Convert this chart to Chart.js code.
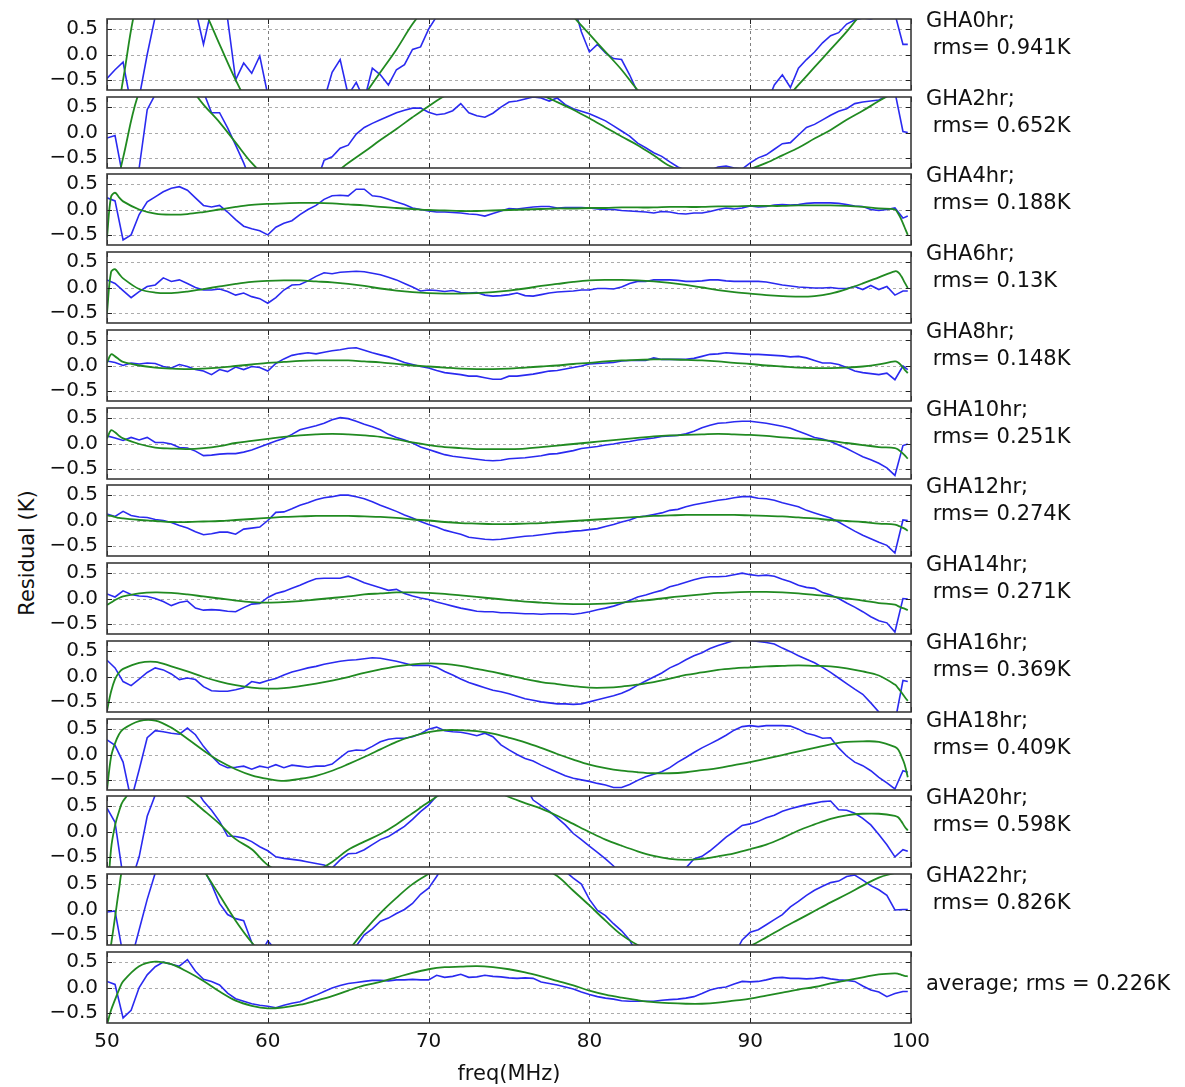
<!DOCTYPE html>
<html>
<head>
<meta charset="utf-8">
<title>Residuals by GHA</title>
<script src="https://cdn.jsdelivr.net/npm/chart.js@4.4.1/dist/chart.umd.min.js"></script>
<style>
    html, body { margin: 0; padding: 0; background: #fff; }
    #figure {
        position: relative;
        width: 1185px;
        height: 1087px;
        overflow: hidden;
        font-family: "DejaVu Sans", sans-serif;
        color: #111;
    }
    #figure canvas { position: absolute; left: 0; }
    .side-label {
        position: absolute;
        left: 926px;
        font-size: 21px;
        line-height: 27px;
        white-space: pre;
    }
    #ylabel {
        position: absolute;
        left: 27px;
        top: 553px;
        font-size: 21px;
        white-space: nowrap;
        transform: translate(-50%, -50%) rotate(-90deg);
    }
</style>
</head>
<body>
<div id="figure">
    <div id="ylabel">Residual (K)</div>
</div>

<script>
// Frequency grid of the measured residuals (MHz)
const freqData = [
    50, 50.5, 51, 51.5, 52, 52.5, 53, 53.5, 54, 54.5,
    55, 55.5, 56, 56.5, 57, 57.5, 58, 58.5, 59, 59.5,
    60, 60.5, 61, 61.5, 62, 62.5, 63, 63.5, 64, 64.5,
    65, 65.5, 66, 66.5, 67, 67.5, 68, 68.5, 69, 69.5,
    70, 70.5, 71, 71.5, 72, 72.5, 73, 73.5, 74, 74.5,
    75, 75.5, 76, 76.5, 77, 77.5, 78, 78.5, 79, 79.5,
    80, 80.5, 81, 81.5, 82, 82.5, 83, 83.5, 84, 84.5,
    85, 85.5, 86, 86.5, 87, 87.5, 88, 88.5, 89, 89.5,
    90, 90.5, 91, 91.5, 92, 92.5, 93, 93.5, 94, 94.5,
    95, 95.5, 96, 96.5, 97, 97.5, 98, 98.5, 99, 99.5,
    99.8
];

// Frequency grid of the fitted curves (denser near the band edges)
const freqFit = [
    50, 50.25, 50.5, 50.75, 51,
    52, 53, 54, 55, 56, 57, 58, 59, 60, 61,
    62, 63, 64, 65, 66, 67, 68, 69, 70, 71,
    72, 73, 74, 75, 76, 77, 78, 79, 80, 81,
    82, 83, 84, 85, 86, 87, 88, 89, 90, 91,
    92, 93, 94, 95, 96, 97, 98,
    99, 99.2, 99.4, 99.6, 99.8
];

const xTickValues = [50, 60, 70, 80, 90, 100];
const yTickValues = [-0.5, 0, 0.5];

const ghaLabels = ['GHA0hr', 'GHA2hr', 'GHA4hr', 'GHA6hr', 'GHA8hr', 'GHA10hr',
    'GHA12hr', 'GHA14hr', 'GHA16hr', 'GHA18hr', 'GHA20hr', 'GHA22hr'];
const rmsValues = [0.941, 0.652, 0.188, 0.13, 0.148, 0.251, 0.274, 0.271, 0.369, 0.409, 0.598, 0.826];
const avgRms = 0.226;

// Residuals (K), one value per freqData entry
const residGHA0 = [
    -0.47, -0.3, -0.15, -1.0, -0.85, 0.0, 0.75, 1.0, 1.1, 1.1,
    1.0, 0.9, 0.2, 0.9, 0.85, 0.7, -0.5, -0.17, -0.37, -0.03,
    -0.8, -1.0, -1.1, -1.0, -1.1, -1.0, -1.0, -0.9, -0.35, -0.1,
    -0.8, -0.55, -0.9, -0.27, -0.4, -0.6, -0.3, -0.2, 0.1, 0.15,
    0.5, 0.75, 1.0, 1.0, 1.0, 1.0, 1.0, 1.0, 1.0, 1.0,
    1.0, 1.0, 1.0, 1.0, 1.0, 1.0, 1.0, 1.0, 1.0, 0.45,
    0.05, 0.2, 0.03, -0.08, -0.1, -0.4, -0.75, -1.0, -1.0, -1.0,
    -1.0, -1.0, -1.0, -1.0, -1.0, -1.0, -1.0, -1.0, -1.0, -1.0,
    -1.0, -1.0, -1.0, -0.6, -0.4, -0.65, -0.27, -0.1, 0.05, 0.23,
    0.37, 0.43, 0.6, 0.68, 0.72, 0.7, 0.75, 0.8, 0.8, 0.2,
    0.2
];
const residGHA2 = [
    -0.11, -0.06, -0.9, -1.0, -0.7, 0.45, 0.75, 1.0, 1.0, 1.0,
    1.0, 1.0, 0.8, 0.39, 0.39, 0.09, -0.25, -0.6, -1.0, -1.0,
    -1.0, -1.0, -1.0, -1.0, -1.0, -1.0, -1.0, -0.55, -0.48, -0.31,
    -0.25, -0.03, 0.1, 0.18, 0.25, 0.32, 0.39, 0.44, 0.48, 0.48,
    0.4, 0.35, 0.37, 0.43, 0.57, 0.39, 0.33, 0.3, 0.38, 0.5,
    0.6, 0.62, 0.66, 0.7, 0.68, 0.62, 0.68, 0.55, 0.47, 0.42,
    0.37, 0.3, 0.23, 0.13, 0.03, -0.07, -0.21, -0.3, -0.4, -0.47,
    -0.58, -0.68, -0.75, -0.8, -0.8, -0.75, -0.68, -0.66, -0.7, -0.72,
    -0.6, -0.5, -0.44, -0.33, -0.22, -0.2, -0.05, 0.1, 0.16, 0.25,
    0.34, 0.42, 0.47, 0.57, 0.6, 0.62, 0.64, 0.72, 0.8, 0.02,
    0.0
];
const residGHA4 = [
    0.23, 0.17, -0.6, -0.5, -0.1, 0.15, 0.25, 0.35, 0.42, 0.45,
    0.38, 0.23, 0.08, 0.05, 0.08, -0.05, -0.2, -0.33, -0.38, -0.42,
    -0.5, -0.35, -0.27, -0.22, -0.1, 0.0, 0.08, 0.2, 0.27, 0.28,
    0.27, 0.4, 0.4, 0.27, 0.25, 0.2, 0.15, 0.1, 0.03, 0.0,
    -0.03, -0.05, -0.05, -0.06, -0.07, -0.09, -0.1, -0.13, -0.08, -0.03,
    0.02, 0.01, 0.03, 0.05, 0.06, 0.06, 0.03, 0.04, 0.04, 0.04,
    0.03, 0.01, 0.0, 0.0, -0.02, -0.03, -0.04, -0.05, -0.07, -0.04,
    -0.05, -0.08, -0.09, -0.07, -0.07, -0.04, 0.0, 0.03, 0.01, 0.03,
    0.07, 0.05, 0.06, 0.09, 0.1, 0.09, 0.1, 0.12, 0.13, 0.13,
    0.13, 0.12, 0.1, 0.07, 0.06, 0.0, -0.02, 0.0, 0.03, -0.17,
    -0.13
];
const residGHA6 = [
    0.15, 0.08, -0.06, -0.2, -0.08, 0.02, 0.05, 0.19, 0.12, 0.15,
    0.08, 0.0, -0.05, -0.05, -0.03, -0.08, -0.15, -0.11, -0.18, -0.22,
    -0.31, -0.2, -0.05, 0.05, 0.06, 0.13, 0.22, 0.29, 0.27, 0.3,
    0.31, 0.32, 0.31, 0.28, 0.25, 0.2, 0.15, 0.08, 0.01, -0.07,
    -0.05, -0.06, -0.08, -0.06, -0.1, -0.11, -0.1, -0.15, -0.17, -0.16,
    -0.14, -0.11, -0.16, -0.17, -0.14, -0.11, -0.09, -0.08, -0.07, -0.05,
    -0.05, -0.02, -0.02, -0.03, 0.01, 0.08, 0.12, 0.12, 0.15, 0.15,
    0.15, 0.14, 0.12, 0.12, 0.13, 0.15, 0.15, 0.13, 0.12, 0.12,
    0.12, 0.12, 0.11, 0.08, 0.05, 0.03, 0.01, 0.0, -0.01, -0.01,
    0.0, -0.02, -0.02, 0.02, -0.04, 0.04, -0.04, 0.02, -0.15, -0.07,
    -0.07
];
const residGHA8 = [
    0.09, 0.06, 0.0, 0.05, 0.03, 0.05, 0.04, -0.02, -0.05, 0.02,
    -0.02, -0.08, -0.11, -0.18, -0.08, -0.12, -0.03, -0.08, -0.02, -0.04,
    -0.11, 0.04, 0.13, 0.2, 0.23, 0.25, 0.23, 0.26, 0.29, 0.31,
    0.34, 0.35, 0.3, 0.25, 0.21, 0.17, 0.12, 0.06, 0.02, -0.02,
    -0.05, -0.1, -0.14, -0.16, -0.18, -0.21, -0.21, -0.24, -0.27, -0.27,
    -0.21, -0.21, -0.19, -0.17, -0.14, -0.11, -0.1, -0.07, -0.04, -0.01,
    0.03, 0.04, 0.05, 0.06, 0.09, 0.1, 0.1, 0.1, 0.15, 0.12,
    0.12, 0.12, 0.12, 0.14, 0.18, 0.22, 0.23, 0.25, 0.24, 0.23,
    0.22, 0.22, 0.21, 0.2, 0.19, 0.17, 0.18, 0.15, 0.1, 0.05,
    0.05, 0.02, -0.04, -0.11, -0.14, -0.16, -0.18, -0.15, -0.28, -0.01,
    -0.08
];
const residGHA10 = [
    0.15, 0.11, 0.06, 0.12, 0.07, 0.12, 0.02, 0.02, -0.01, -0.08,
    -0.09, -0.15, -0.24, -0.23, -0.21, -0.2, -0.2, -0.17, -0.13, -0.07,
    -0.01, 0.05, 0.1, 0.18, 0.27, 0.31, 0.35, 0.4, 0.47, 0.51,
    0.49, 0.44, 0.38, 0.33, 0.27, 0.18, 0.12, 0.07, 0.01, -0.07,
    -0.12, -0.17, -0.22, -0.25, -0.27, -0.29, -0.31, -0.33, -0.34, -0.33,
    -0.3, -0.29, -0.28, -0.26, -0.24, -0.21, -0.2, -0.17, -0.14, -0.1,
    -0.08, -0.06, -0.03, -0.01, 0.02, 0.04, 0.07, 0.09, 0.11, 0.14,
    0.15, 0.16, 0.19, 0.24, 0.31, 0.36, 0.4, 0.41, 0.43, 0.44,
    0.44, 0.42, 0.4, 0.37, 0.34, 0.3, 0.24, 0.18, 0.12, 0.09,
    0.04, -0.03, -0.1, -0.18, -0.26, -0.32, -0.39, -0.48, -0.63, -0.04,
    -0.01
];
const residGHA12 = [
    0.13, 0.08, 0.18, 0.1, 0.07, 0.06, 0.02, 0.0, -0.04, -0.1,
    -0.15, -0.22, -0.28, -0.26, -0.23, -0.23, -0.27, -0.17, -0.15, -0.13,
    0.0, 0.16, 0.17, 0.23, 0.3, 0.35, 0.41, 0.45, 0.47, 0.5,
    0.5, 0.47, 0.43, 0.37, 0.3, 0.24, 0.18, 0.11, 0.05, -0.02,
    -0.08, -0.13, -0.19, -0.23, -0.27, -0.33, -0.35, -0.37, -0.38, -0.37,
    -0.35, -0.33, -0.31, -0.3, -0.28, -0.26, -0.24, -0.23, -0.21, -0.2,
    -0.18, -0.16, -0.12, -0.08, -0.03, 0.01, 0.07, 0.09, 0.12, 0.15,
    0.2, 0.22, 0.27, 0.31, 0.34, 0.37, 0.4, 0.42, 0.45, 0.47,
    0.47, 0.44, 0.43, 0.4, 0.35, 0.31, 0.27, 0.2, 0.15, 0.1,
    0.05, -0.03, -0.12, -0.21, -0.29, -0.36, -0.43, -0.49, -0.64, 0.01,
    0.0
];
const residGHA14 = [
    0.09, 0.03, 0.15, 0.08, 0.05, 0.04, 0.0, -0.06, -0.14, -0.08,
    -0.05, -0.19, -0.23, -0.22, -0.23, -0.25, -0.26, -0.18, -0.11, -0.1,
    0.02, 0.1, 0.14, 0.2, 0.26, 0.33, 0.39, 0.4, 0.4, 0.4,
    0.44, 0.38, 0.31, 0.26, 0.21, 0.16, 0.18, 0.1, 0.05, 0.01,
    -0.02, -0.07, -0.11, -0.15, -0.19, -0.22, -0.25, -0.26, -0.26, -0.28,
    -0.28, -0.29, -0.3, -0.3, -0.31, -0.3, -0.3, -0.3, -0.31, -0.29,
    -0.26, -0.22, -0.19, -0.15, -0.1, -0.04, 0.03, 0.07, 0.12, 0.16,
    0.23, 0.27, 0.32, 0.37, 0.41, 0.43, 0.43, 0.44, 0.47, 0.5,
    0.47, 0.45, 0.46, 0.44, 0.38, 0.33, 0.26, 0.22, 0.2, 0.12,
    0.07, 0.0, -0.09, -0.17, -0.26, -0.36, -0.44, -0.48, -0.66, 0.0,
    -0.01
];
const residGHA16 = [
    0.32, 0.17, -0.1, -0.18, -0.05, 0.08, 0.17, 0.13, 0.05, -0.06,
    -0.03, -0.06, -0.2, -0.28, -0.29, -0.29, -0.26, -0.22, -0.1, -0.13,
    -0.08, -0.04, 0.03, 0.09, 0.13, 0.17, 0.2, 0.24, 0.27, 0.3,
    0.32, 0.33, 0.35, 0.37, 0.36, 0.33, 0.3, 0.26, 0.22, 0.22,
    0.22, 0.18, 0.1, 0.03, -0.05, -0.12, -0.17, -0.22, -0.27, -0.3,
    -0.34, -0.39, -0.44, -0.47, -0.5, -0.52, -0.54, -0.54, -0.55, -0.54,
    -0.5, -0.46, -0.42, -0.38, -0.33, -0.26, -0.17, -0.09, -0.01, 0.07,
    0.17, 0.24, 0.33, 0.41, 0.47, 0.55, 0.61, 0.66, 0.71, 0.72,
    0.71, 0.69, 0.67, 0.64, 0.56, 0.49, 0.41, 0.34, 0.27, 0.18,
    0.08, -0.03, -0.14, -0.25, -0.35, -0.52, -0.7, -0.85, -0.9, -0.08,
    -0.1
];
const residGHA18 = [
    0.29, 0.18, -0.15, -0.9, -0.3, 0.33, 0.47, 0.45, 0.42, 0.4,
    0.52, 0.39, 0.16, -0.03, -0.19, -0.26, -0.25, -0.23, -0.29, -0.23,
    -0.26, -0.2, -0.26, -0.21, -0.23, -0.25, -0.23, -0.23, -0.19, -0.06,
    0.06, 0.09, 0.08, 0.16, 0.25, 0.3, 0.32, 0.32, 0.35, 0.41,
    0.5, 0.54, 0.47, 0.45, 0.44, 0.41, 0.37, 0.42, 0.35, 0.19,
    0.09, 0.0, -0.08, -0.13, -0.21, -0.28, -0.35, -0.42, -0.47, -0.5,
    -0.53, -0.57, -0.6, -0.65, -0.65, -0.59, -0.51, -0.44, -0.39, -0.34,
    -0.26, -0.15, -0.06, 0.04, 0.13, 0.21, 0.29, 0.38, 0.48, 0.55,
    0.57, 0.55, 0.57, 0.57, 0.57, 0.56, 0.5, 0.42, 0.38, 0.32,
    0.33, 0.13, -0.03, -0.15, -0.22, -0.32, -0.45, -0.56, -0.68, -0.32,
    -0.35
];
const residGHA20 = [
    0.46, 0.18, -0.9, -1.0, -0.5, 0.3, 0.72, 0.9, 1.0, 1.0,
    0.95, 0.85, 0.6, 0.42, 0.2, -0.09, -0.1, -0.13, -0.2, -0.3,
    -0.38, -0.5, -0.53, -0.55, -0.57, -0.6, -0.63, -0.66, -0.72, -0.56,
    -0.44, -0.43, -0.36, -0.26, -0.16, -0.1, 0.0, 0.1, 0.24, 0.39,
    0.52, 0.7, 0.9, 0.9, 0.9, 0.9, 0.9, 0.9, 0.9, 0.9,
    0.9, 0.9, 0.9, 0.62, 0.51, 0.4, 0.27, 0.13, -0.04, -0.16,
    -0.29, -0.41, -0.54, -0.68, -0.9, -0.9, -0.9, -0.9, -0.9, -0.9,
    -0.9, -0.9, -0.72, -0.54, -0.49, -0.38, -0.25, -0.11, 0.0, 0.12,
    0.15, 0.2, 0.27, 0.32, 0.4, 0.45, 0.49, 0.53, 0.56, 0.59,
    0.6, 0.43, 0.42, 0.36, 0.26, 0.13, -0.06, -0.26, -0.5, -0.36,
    -0.39
];
const residGHA22 = [
    -0.05, -0.03, -0.9, -1.0, -0.4, 0.2, 0.72, 0.9, 1.0, 1.0,
    1.0, 0.95, 0.8, 0.5, 0.12, -0.1, -0.18, -0.22, -0.65, -0.9,
    -0.62, -0.8, -0.9, -0.9, -0.9, -0.78, -0.9, -0.9, -0.9, -0.9,
    -0.9, -0.72, -0.5, -0.38, -0.23, -0.17, -0.08, 0.0, 0.12, 0.3,
    0.42, 0.65, 0.9, 0.9, 0.9, 0.9, 0.9, 0.9, 0.9, 0.9,
    0.9, 0.9, 0.9, 0.9, 0.9, 0.9, 0.9, 0.75, 0.62, 0.5,
    0.2, -0.02, -0.12, -0.28, -0.42, -0.6, -0.9, -0.9, -0.9, -0.9,
    -0.9, -0.9, -0.9, -0.9, -0.9, -0.9, -0.9, -0.9, -0.9, -0.6,
    -0.45, -0.4, -0.3, -0.2, -0.1, 0.05, 0.16, 0.28, 0.38, 0.46,
    0.53, 0.56, 0.65, 0.68, 0.58, 0.47, 0.39, 0.28, -0.01, 0.0,
    0.0
];
const residAvg = [
    0.12, 0.06, -0.6, -0.45, 0.0, 0.25, 0.41, 0.5, 0.46, 0.42,
    0.55, 0.32, 0.16, 0.12, 0.05, -0.11, -0.22, -0.27, -0.32, -0.35,
    -0.37, -0.4, -0.35, -0.31, -0.28, -0.21, -0.15, -0.08, -0.01, 0.04,
    0.08, 0.1, 0.12, 0.14, 0.14, 0.13, 0.15, 0.15, 0.16, 0.15,
    0.15, 0.24, 0.2, 0.22, 0.26, 0.2, 0.21, 0.24, 0.22, 0.21,
    0.19, 0.18, 0.19, 0.18, 0.11, 0.08, 0.05, 0.01, -0.03, -0.09,
    -0.14, -0.18, -0.21, -0.23, -0.26, -0.27, -0.27, -0.27, -0.27, -0.25,
    -0.24, -0.23, -0.21, -0.18, -0.12, -0.05, -0.01, 0.01, 0.07, 0.12,
    0.11, 0.12, 0.15, 0.19, 0.2, 0.18, 0.18, 0.17, 0.18, 0.2,
    0.17, 0.15, 0.14, 0.12, 0.03, -0.05, -0.09, -0.18, -0.12, -0.08,
    -0.08
];

// Fitted model (K), one value per freqFit entry
const fitGHA0 = [
    -2.6, -2.0, -1.5, -1.0, -0.5,
    1.2, 1.6, 1.7, 1.4, 0.9, 0.2, -0.5, -1.1, -1.5, -1.8,
    -1.9, -1.8, -1.5, -1.2, -0.8, -0.35, 0.1, 0.6, 1.0, 1.3,
    1.55, 1.7, 1.8, 1.8, 1.7, 1.5, 1.15, 0.75, 0.4, 0.05,
    -0.3, -0.7, -1.0, -1.3, -1.5, -1.6, -1.65, -1.6, -1.45, -1.2,
    -0.95, -0.6, -0.25, 0.1, 0.45, 0.85, 1.25,
    1.7, 1.8, 1.9, 2.0, 2.1
];
const fitGHA2 = [
    -2.0, -1.6, -1.2, -0.85, -0.5,
    0.8, 1.25, 1.25, 0.95, 0.55, 0.2, -0.2, -0.6, -0.9, -1.1,
    -1.15, -1.05, -0.85, -0.6, -0.38, -0.15, 0.07, 0.3, 0.52, 0.72,
    0.85, 0.92, 0.93, 0.9, 0.82, 0.74, 0.6, 0.45, 0.28, 0.1,
    -0.08, -0.25, -0.45, -0.66, -0.76, -0.8, -0.82, -0.8, -0.72, -0.6,
    -0.45, -0.3, -0.12, 0.05, 0.25, 0.43, 0.62,
    0.8, 0.84, 0.88, 0.92, 0.95
];
const fitGHA4 = [
    -0.55, 0.25, 0.33, 0.24, 0.16,
    0.0, -0.08, -0.1, -0.09, -0.05, 0.0, 0.05, 0.09, 0.11, 0.12,
    0.13, 0.13, 0.12, 0.1, 0.08, 0.05, 0.03, 0.01, -0.01, -0.02,
    -0.03, -0.03, -0.02, -0.01, 0.0, 0.01, 0.02, 0.02, 0.03, 0.03,
    0.04, 0.04, 0.04, 0.05, 0.05, 0.05, 0.06, 0.06, 0.07, 0.07,
    0.07, 0.08, 0.08, 0.08, 0.07, 0.05, 0.02,
    0.0, -0.08, -0.2, -0.35, -0.5
];
const fitGHA6 = [
    -0.5, 0.3, 0.36, 0.27, 0.18,
    -0.03, -0.1, -0.11, -0.08, -0.03, 0.02, 0.07, 0.11, 0.13, 0.14,
    0.14, 0.12, 0.1, 0.07, 0.03, -0.02, -0.06, -0.09, -0.11, -0.12,
    -0.12, -0.11, -0.09, -0.06, -0.02, 0.03, 0.07, 0.11, 0.14, 0.15,
    0.15, 0.14, 0.12, 0.09, 0.05, 0.0, -0.05, -0.09, -0.12, -0.15,
    -0.17, -0.18, -0.17, -0.12, -0.03, 0.08, 0.2,
    0.32, 0.3, 0.22, 0.1, -0.01
];
const fitGHA8 = [
    0.05, 0.22, 0.18, 0.12, 0.07,
    0.0, -0.04, -0.06, -0.07, -0.06, -0.04, -0.01, 0.02, 0.05, 0.07,
    0.09, 0.1, 0.1, 0.1, 0.08, 0.06, 0.03, 0.0, -0.02, -0.04,
    -0.06, -0.07, -0.07, -0.06, -0.04, -0.02, 0.0, 0.03, 0.05, 0.08,
    0.1, 0.11, 0.12, 0.12, 0.11, 0.1, 0.08, 0.05, 0.03, 0.0,
    -0.02, -0.04, -0.05, -0.05, -0.04, -0.02, 0.02,
    0.08, 0.06, 0.0, -0.08, -0.15
];
const fitGHA10 = [
    0.1, 0.26, 0.22, 0.15, 0.1,
    -0.01, -0.08, -0.1, -0.11, -0.09, -0.05, 0.01, 0.05, 0.09, 0.13,
    0.16, 0.18, 0.19, 0.18, 0.16, 0.13, 0.08, 0.02, -0.03, -0.07,
    -0.09, -0.11, -0.11, -0.11, -0.1, -0.07, -0.04, -0.01, 0.02, 0.05,
    0.08, 0.11, 0.14, 0.16, 0.17, 0.18, 0.19, 0.18, 0.17, 0.15,
    0.12, 0.1, 0.08, 0.05, 0.01, -0.03, -0.07,
    -0.09, -0.12, -0.17, -0.23, -0.3
];
const fitGHA12 = [
    0.1, 0.09, 0.07, 0.05, 0.04,
    0.01, -0.01, -0.03, -0.03, -0.02, -0.01, 0.01, 0.03, 0.05, 0.07,
    0.08, 0.09, 0.09, 0.09, 0.08, 0.07, 0.05, 0.02, 0.0, -0.03,
    -0.05, -0.06, -0.07, -0.07, -0.06, -0.05, -0.03, -0.01, 0.01, 0.03,
    0.05, 0.07, 0.09, 0.1, 0.11, 0.11, 0.11, 0.11, 0.1, 0.09,
    0.08, 0.06, 0.04, 0.01, -0.01, -0.03, -0.06,
    -0.08, -0.1, -0.13, -0.16, -0.2
];
const fitGHA14 = [
    -0.13, -0.08, -0.03, 0.01, 0.04,
    0.1, 0.12, 0.11, 0.08, 0.04, 0.0, -0.04, -0.07, -0.08, -0.07,
    -0.05, -0.02, 0.01, 0.04, 0.08, 0.1, 0.12, 0.12, 0.11, 0.09,
    0.06, 0.03, 0.0, -0.03, -0.06, -0.08, -0.1, -0.11, -0.11, -0.1,
    -0.08, -0.05, -0.02, 0.02, 0.05, 0.08, 0.11, 0.12, 0.13, 0.13,
    0.12, 0.1, 0.07, 0.04, 0.0, -0.04, -0.09,
    -0.12, -0.15, -0.18, -0.2, -0.23
];
const fitGHA16 = [
    -0.68, -0.3, -0.05, 0.08, 0.15,
    0.27, 0.29, 0.2, 0.1, -0.01, -0.1, -0.17, -0.22, -0.24, -0.23,
    -0.19, -0.14, -0.08, -0.01, 0.07, 0.14, 0.2, 0.24, 0.26, 0.25,
    0.21, 0.15, 0.09, 0.02, -0.05, -0.11, -0.15, -0.19, -0.22, -0.22,
    -0.2, -0.16, -0.11, -0.04, 0.03, 0.08, 0.13, 0.16, 0.18, 0.2,
    0.21, 0.22, 0.21, 0.2, 0.16, 0.1, 0.02,
    -0.16, -0.23, -0.31, -0.4, -0.48
];
const fitGHA18 = [
    -0.7, -0.05, 0.22, 0.4, 0.5,
    0.66, 0.67, 0.53, 0.31, 0.08, -0.13, -0.29, -0.41, -0.48, -0.52,
    -0.48, -0.42, -0.32, -0.19, -0.05, 0.1, 0.25, 0.36, 0.44, 0.48,
    0.48, 0.46, 0.41, 0.33, 0.24, 0.13, 0.01, -0.1, -0.2, -0.27,
    -0.32, -0.35, -0.37, -0.37, -0.35, -0.31, -0.27, -0.21, -0.15, -0.08,
    -0.01, 0.06, 0.13, 0.2, 0.25, 0.26, 0.25,
    0.15, 0.1, -0.03, -0.19, -0.45
];
const fitGHA20 = [
    -1.5, -0.35, 0.12, 0.4, 0.6,
    0.95, 1.0, 0.85, 0.68, 0.42, 0.15, -0.15, -0.35, -0.66, -0.82,
    -0.88, -0.78, -0.6, -0.36, -0.2, -0.05, 0.14, 0.36, 0.58, 0.78,
    0.88, 0.9, 0.82, 0.68, 0.56, 0.45, 0.31, 0.15, -0.01, -0.16,
    -0.28, -0.39, -0.48, -0.54, -0.56, -0.54, -0.49, -0.43, -0.35, -0.26,
    -0.13, 0.02, 0.14, 0.25, 0.32, 0.35, 0.35,
    0.31, 0.28, 0.2, 0.1, 0.02
];
const fitGHA22 = [
    -1.2, -0.7, -0.15, 0.4, 0.85,
    1.5, 1.75, 1.65, 1.3, 0.78, 0.28, -0.22, -0.65, -1.0, -1.25,
    -1.4, -1.4, -1.25, -0.82, -0.42, -0.07, 0.23, 0.5, 0.7, 0.88,
    1.02, 1.1, 1.12, 1.08, 0.98, 0.83, 0.66, 0.37, 0.08, -0.22,
    -0.5, -0.7, -0.85, -0.95, -1.0, -1.0, -0.95, -0.85, -0.72, -0.55,
    -0.37, -0.2, -0.03, 0.14, 0.3, 0.47, 0.63,
    0.72, 0.74, 0.76, 0.77, 0.78
];
const fitAvg = [
    -0.73, -0.45, -0.24, -0.04, 0.12,
    0.42, 0.51, 0.46, 0.31, 0.13, -0.08, -0.26, -0.36, -0.41, -0.39,
    -0.34, -0.26, -0.17, -0.06, 0.04, 0.11, 0.2, 0.29, 0.36, 0.4,
    0.41, 0.42, 0.4, 0.36, 0.3, 0.22, 0.13, 0.04, -0.06, -0.14,
    -0.2, -0.25, -0.29, -0.31, -0.32, -0.32, -0.3, -0.26, -0.22, -0.16,
    -0.1, -0.04, 0.01, 0.08, 0.14, 0.2, 0.26,
    0.28, 0.27, 0.25, 0.23, 0.22
];

const residSeries = [residGHA0, residGHA2, residGHA4, residGHA6, residGHA8, residGHA10,
    residGHA12, residGHA14, residGHA16, residGHA18, residGHA20, residGHA22, residAvg];
const fitSeries = [fitGHA0, fitGHA2, fitGHA4, fitGHA6, fitGHA8, fitGHA10,
    fitGHA12, fitGHA14, fitGHA16, fitGHA18, fitGHA20, fitGHA22, fitAvg];

// Layout of the stacked panels (page pixels)
const panelTops = [19, 97, 174, 252, 330, 408, 485, 563, 641, 719, 796, 874, 952];
const PLOT_LEFT = 107;
const PLOT_RIGHT = 911;
const PLOT_HEIGHT = 71;
const MARGIN = 22;
const RIGHT_PAD = 35;
const FIG_HEIGHT = 1087;
const FONT_FAMILY = 'DejaVu Sans';

// grid lines, inward ticks and the box around each panel
const panelAxes = {
    id: 'panelAxes',
    beforeDatasetsDraw(chart) {
        const { ctx, chartArea: area, scales } = chart;
        ctx.save();
        ctx.lineWidth = 1;
        ctx.setLineDash([3, 3]);
        ctx.strokeStyle = '#808080';
        xTickValues.slice(1, -1).forEach(v => {
            const px = Math.round(scales.x.getPixelForValue(v)) + 0.5;
            ctx.beginPath();
            ctx.moveTo(px, area.top);
            ctx.lineTo(px, area.bottom);
            ctx.stroke();
        });
        ctx.strokeStyle = '#ababab';
        yTickValues.forEach(v => {
            const py = Math.round(scales.y.getPixelForValue(v)) + 0.5;
            ctx.beginPath();
            ctx.moveTo(area.left, py);
            ctx.lineTo(area.right, py);
            ctx.stroke();
        });
        ctx.restore();
    },
    afterDatasetsDraw(chart) {
        const { ctx, chartArea: area, scales } = chart;
        const len = 5;
        ctx.save();
        ctx.strokeStyle = '#222';
        ctx.lineWidth = 1;
        ctx.beginPath();
        xTickValues.forEach(v => {
            const px = Math.round(scales.x.getPixelForValue(v)) + 0.5;
            ctx.moveTo(px, area.bottom);
            ctx.lineTo(px, area.bottom - len);
            ctx.moveTo(px, area.top);
            ctx.lineTo(px, area.top + len);
        });
        yTickValues.forEach(v => {
            const py = Math.round(scales.y.getPixelForValue(v)) + 0.5;
            ctx.moveTo(area.left, py);
            ctx.lineTo(area.left + len, py);
            ctx.moveTo(area.right, py);
            ctx.lineTo(area.right - len, py);
        });
        ctx.stroke();
        ctx.strokeStyle = '#3a3a3a';
        ctx.lineWidth = 1.6;
        ctx.strokeRect(area.left, area.top, area.right - area.left, area.bottom - area.top);
        ctx.restore();
    }
};

document.addEventListener('DOMContentLoaded', function() {
    drawPanels();
    drawSideLabels();
});

function toPoints(xs, ys) {
    return xs.map((x, i) => ({ x: x, y: ys[i] }));
}

function drawPanels() {
    const figure = document.getElementById('figure');

    panelTops.forEach((top, i) => {
        const isLast = i === panelTops.length - 1;
        const canvas = document.createElement('canvas');
        const canvasTop = top - MARGIN;
        const height = isLast ? FIG_HEIGHT - canvasTop : PLOT_HEIGHT + 2 * MARGIN;
        canvas.width = PLOT_RIGHT + RIGHT_PAD;
        canvas.height = height;
        canvas.style.top = canvasTop + 'px';
        figure.appendChild(canvas);

        const xAxisHeight = height - MARGIN - PLOT_HEIGHT;

        new Chart(canvas.getContext('2d'), {
            type: 'line',
            data: {
                datasets: [
                    {
                        label: 'fit',
                        data: toPoints(freqFit, fitSeries[i]),
                        borderColor: '#218a21',
                        borderWidth: 1.8,
                        tension: 0.35,
                        pointRadius: 0,
                        order: 0
                    },
                    {
                        label: 'residual',
                        data: toPoints(freqData, residSeries[i]),
                        borderColor: '#2a2af0',
                        borderWidth: 1.6,
                        tension: 0,
                        pointRadius: 0,
                        order: 1
                    }
                ]
            },
            options: {
                responsive: false,
                animation: false,
                devicePixelRatio: 1,
                events: [],
                elements: { line: { capBezierPoints: false } },
                layout: {
                    padding: { left: 0, right: RIGHT_PAD, top: MARGIN, bottom: isLast ? 0 : MARGIN }
                },
                plugins: {
                    legend: { display: false },
                    tooltip: { enabled: false }
                },
                scales: {
                    x: {
                        type: 'linear',
                        min: 50,
                        max: 100,
                        grid: { display: false, drawTicks: false },
                        border: { display: false },
                        afterBuildTicks: scale => {
                            scale.ticks = xTickValues.map(v => ({ value: v }));
                        },
                        ticks: {
                            display: isLast,
                            padding: 9,
                            maxRotation: 0,
                            color: '#111',
                            font: { family: FONT_FAMILY, size: 20, lineHeight: 1 },
                            callback: value => String(value)
                        },
                        title: {
                            display: isLast,
                            text: 'freq(MHz)',
                            color: '#111',
                            padding: { top: 0, bottom: 0 },
                            font: { family: FONT_FAMILY, size: 21, lineHeight: 1.2 }
                        },
                        afterFit: scale => {
                            scale.height = isLast ? xAxisHeight : 0;
                        }
                    },
                    y: {
                        min: -0.7,
                        max: 0.7,
                        grid: { display: false, drawTicks: false },
                        border: { display: false },
                        afterBuildTicks: scale => {
                            scale.ticks = yTickValues.map(v => ({ value: v }));
                        },
                        ticks: {
                            padding: 9,
                            color: '#111',
                            font: { family: FONT_FAMILY, size: 20, lineHeight: 1 },
                            callback: value => value.toFixed(1).replace('-', '\u2212')
                        },
                        afterFit: scale => {
                            scale.width = PLOT_LEFT;
                        }
                    }
                }
            },
            plugins: [panelAxes]
        });
    });
}

function drawSideLabels() {
    const figure = document.getElementById('figure');

    ghaLabels.forEach((name, i) => {
        const div = document.createElement('div');
        div.className = 'side-label';
        div.style.top = (panelTops[i] - 12) + 'px';
        div.textContent = name + ';\n rms= ' + rmsValues[i] + 'K';
        figure.appendChild(div);
    });

    const avg = document.createElement('div');
    avg.className = 'side-label';
    avg.style.top = '970px';
    avg.textContent = 'average; rms = ' + avgRms + 'K';
    figure.appendChild(avg);
}
</script>
</body>
</html>
